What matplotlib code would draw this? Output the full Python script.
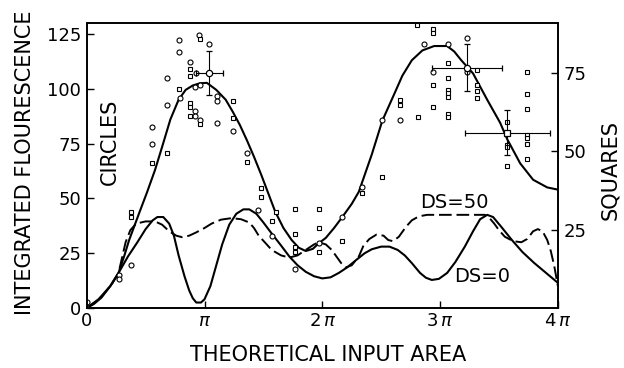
import numpy as np
import matplotlib
matplotlib.use("Agg")
import matplotlib.pyplot as plt

# x in units of pi, y in "integrated fluorescence" (circles, left) / squares (right)
fit_x = [0, 0.1, 0.2, 0.27, 0.32, 0.36, 0.45, 0.51, 0.58, 0.64, 0.71, 0.78, 0.84, 0.9,
         0.96, 1.02, 1.1, 1.18, 1.24, 1.3, 1.36, 1.42, 1.48, 1.54, 1.6, 1.67, 1.74,
         1.8, 1.86, 1.92, 1.97, 2.03, 2.1, 2.17, 2.25, 2.31, 2.42, 2.51, 2.61, 2.68,
         2.76, 2.85, 2.95, 3.06, 3.12, 3.18, 3.28, 3.4, 3.51, 3.57, 3.68, 3.79, 3.91, 4.0]
fit_y = [0, 4, 10, 16, 24, 31, 44, 52.5, 63, 73.5, 86, 95, 99.5, 101.5,
         102.5, 102.7, 99.5, 95, 89.5, 83.5, 76.5, 69, 61, 52.5, 44, 36.5, 31,
         27.5, 26, 27, 29.5, 32, 36.5, 41.5, 47.5, 53, 70, 85.5, 97.5, 106,
         113, 117.5, 119.5, 119.5, 117, 113, 107, 95, 84.5, 77, 66, 58.5, 55, 54]

ds0_x = [0, 0.06, 0.12, 0.2, 0.27, 0.35, 0.43, 0.5, 0.56, 0.6, 0.65, 0.7, 0.74, 0.78,
         0.83, 0.87, 0.9, 0.93, 0.97, 1.0, 1.05, 1.1, 1.15, 1.21, 1.27, 1.33, 1.38,
         1.44, 1.5, 1.57, 1.65, 1.72, 1.79, 1.86, 1.93, 2.0, 2.07, 2.14, 2.21, 2.29,
         2.36, 2.42, 2.5, 2.57, 2.64, 2.7, 2.76, 2.83, 2.88, 2.93, 2.99, 3.06, 3.13,
         3.21, 3.28, 3.34, 3.4, 3.45, 3.52, 3.61, 3.7, 3.8, 3.9, 4.0]
ds0_y = [0, 1.8, 4.5, 10, 16, 23.5, 30, 36, 40, 41.5, 41.5, 38.5, 33, 24,
         14.5, 8, 4.5, 2.5, 2.5, 4, 10, 19.5, 29, 38, 43, 45, 45,
         43, 39, 34, 28.5, 23.5, 19.5, 16.5, 14.5, 13.5, 14, 16, 18.5, 22,
         25, 26.8, 28, 28, 26.5, 24, 20.5, 16, 13.8, 12.8, 13.3, 16, 21,
         28, 35, 40.5, 42.5, 41.5, 37, 31, 25.5, 20.5, 16, 11.5]

ds50_x = [0, 0.12, 0.22, 0.27, 0.3, 0.33, 0.37, 0.42, 0.5, 0.58, 0.64, 0.7, 0.76, 0.81,
          0.87, 0.93, 1.0, 1.06, 1.14, 1.23, 1.31, 1.38, 1.42, 1.46, 1.52, 1.57, 1.65,
          1.72, 1.79, 1.86, 1.93, 1.97, 2.03, 2.08, 2.12, 2.16, 2.2, 2.25, 2.31, 2.35,
          2.4, 2.46, 2.52, 2.56, 2.6, 2.65, 2.71, 2.76, 2.82, 2.89, 3.38, 3.42, 3.46,
          3.5, 3.55, 3.62, 3.69, 3.74, 3.79, 3.83, 3.87, 3.91, 3.94, 3.97, 4.0]
ds50_y = [0, 4.5, 11.5, 16, 23, 30, 35.5, 38.5, 39.5, 39.5, 38, 35, 33, 32.3,
          33, 34.5, 36.5, 38.5, 40.3, 41, 40.5, 39, 36.5, 33, 29.5, 26.5, 24,
          23, 24, 26.5, 29, 30, 29, 26.5, 23.5, 20.5, 18.5, 19.5, 23.5, 28.5,
          31.5, 33.5, 33, 31, 30.5, 32.5, 37, 40, 41.8, 42.5, 42.5, 41, 38.5,
          35.5, 32.5, 30.5, 30, 31.5, 35, 36, 35, 31, 26, 19, 10]

circ_x = [0, 0, 0.27, 0.27, 0.38, 0.55, 0.55, 0.68, 0.68, 0.78, 0.78, 0.79, 0.88,
          0.93, 0.92, 0.96, 0.92, 0.92, 0.96, 0.95, 1.04, 1.11, 1.11, 1.11, 1.24,
          1.36, 1.45, 1.57, 1.77, 1.97, 2.17, 2.34, 2.51, 2.66, 2.86, 3.07, 3.23,
          2.94, 3.23]
circ_y = [2.7, 0, 15.1, 13.2, 19.6, 82.6, 74.9, 105, 92.7, 122.4, 116.9, 95.9, 112.3,
          107.3, 100.9, 101.8, 90, 87.7, 85.8, 124.7, 120.5, 96.8, 94.5, 84.5, 80.8,
          70.8, 44.7, 32.9, 17.8, 29.7, 41.6, 55.3, 85.8, 85.8, 120.5, 120.5, 123.3,
          107.8, 107.8]

sq_x = [0.38, 0.38, 0.55, 0.68, 0.78, 0.88, 0.88, 0.88, 0.88, 0.88, 0.96, 0.96,
        1.24, 1.24, 1.36, 1.48, 1.48, 1.61, 1.57, 1.77, 1.77, 1.77, 1.77, 1.97,
        1.97, 1.97, 2.17, 2.34, 2.51, 2.66, 2.66, 2.80, 2.94, 2.94, 3.07, 3.07,
        2.94, 3.07, 3.07, 3.07, 3.31, 3.31, 3.31, 3.31, 2.94, 2.81, 3.07, 3.07,
        3.74, 3.74, 3.74, 3.74, 3.74, 3.74, 3.74, 3.57, 3.57, 3.57, 3.57]
sq_y = [30.7, 29.1, 46.3, 49.5, 70, 76.4, 74.1, 65.5, 64.2, 61.3, 85.9, 58.8,
        66.1, 60.7, 46.6, 38.3, 35.5, 30.7, 27.8, 31.6, 23.6, 19.5, 17.9, 31.6,
        25.6, 17.9, 21.4, 36.7, 41.9, 66.5, 64.9, 90.4, 89.1, 87.9, 78.3, 73.5,
        71.2, 69.6, 68.7, 67.4, 76, 71.2, 69.3, 67.1, 64.2, 61, 62, 61,
        75.4, 68.4, 63.6, 55.3, 54.3, 52.4, 47.6, 59.4, 52.1, 51.4, 45.4]

# averaged points with error bars
circ_mean_x = [1.04, 3.23]
circ_mean_y = [107.3, 109.6]
circ_mean_xerr = [0.115, 0.3]
circ_mean_yerr = [10, 10.7]
sq_mean_x = [3.57]
sq_mean_y = [55.9]
sq_mean_xerr = [0.36]
sq_mean_yerr = [7.2]

plt.rcParams['font.family'] = 'DejaVu Sans'
plt.rcParams['mathtext.fontset'] = 'dejavusans'

fig = plt.figure(figsize=(6.24, 3.68), dpi=100)
ax = fig.add_axes([0.139, 0.163, 0.755, 0.7745])
ax2 = ax.twinx()

ax.plot(fit_x, fit_y, color='black', lw=1.5, solid_joinstyle='round')
ax.plot(ds0_x, ds0_y, color='black', lw=1.5, solid_joinstyle='round')
ax.plot(ds50_x, ds50_y, color='black', lw=1.4, dashes=(6.5, 2.5))

mk = dict(ls='none', mfc='white', mec='black', mew=0.8)
ax.plot(circ_x, circ_y, marker='o', ms=3.6, **mk)
ax2.plot(sq_x, sq_y, marker='s', ms=3.3, **mk)

ax.errorbar(circ_mean_x, circ_mean_y, xerr=circ_mean_xerr, yerr=circ_mean_yerr,
            fmt='o', ms=4.5, mfc='white', mec='black', mew=0.9, ecolor='black',
            elinewidth=0.8, capsize=2.5, capthick=0.8)
ax2.errorbar(sq_mean_x, sq_mean_y, xerr=sq_mean_xerr, yerr=sq_mean_yerr,
             fmt='s', ms=4.2, mfc='white', mec='black', mew=0.9, ecolor='black',
             elinewidth=0.8, capsize=2.5, capthick=0.8)

ax.set_xlim(0, 4)
ax.set_ylim(0, 130)
ax2.set_ylim(0, 91)

ax.set_xticks([0, 1, 2, 3, 4])
ax.set_xticklabels(['0', r'$\pi$', r'$2\,\pi$', r'$3\,\pi$', r'$4\,\pi$'])
ax.set_yticks([0, 25, 50, 75, 100, 125])
ax2.set_yticks([25, 50, 75])

ax.tick_params(axis='both', direction='in', length=5, width=1, labelsize=13, pad=4)
ax.tick_params(axis='x', pad=3)
ax2.tick_params(axis='y', direction='in', length=5, width=1, labelsize=13, pad=4)
for a in (ax, ax2):
    for s in a.spines.values():
        s.set_linewidth(1.2)

ax.text(0.196, 75.8, 'CIRCLES', rotation=90, fontsize=15, ha='center', va='center')
ax.text(3.12, 47.9, 'DS=50', fontsize=14, ha='center', va='center')
ax.text(3.36, 14.6, 'DS=0', fontsize=14, ha='center', va='center')

fig.text(25 / 624, 1 - 163 / 368, 'INTEGRATED FLOURESCENCE', rotation=90,
         fontsize=15, ha='center', va='center')
fig.text(610 / 624, 1 - 170 / 368, 'SQUARES', rotation=90,
         fontsize=15, ha='center', va='center')
fig.text(328 / 624, 1 - 355 / 368, 'THEORETICAL INPUT AREA',
         fontsize=15, ha='center', va='center')

fig.savefig('out.png', dpi=100)
